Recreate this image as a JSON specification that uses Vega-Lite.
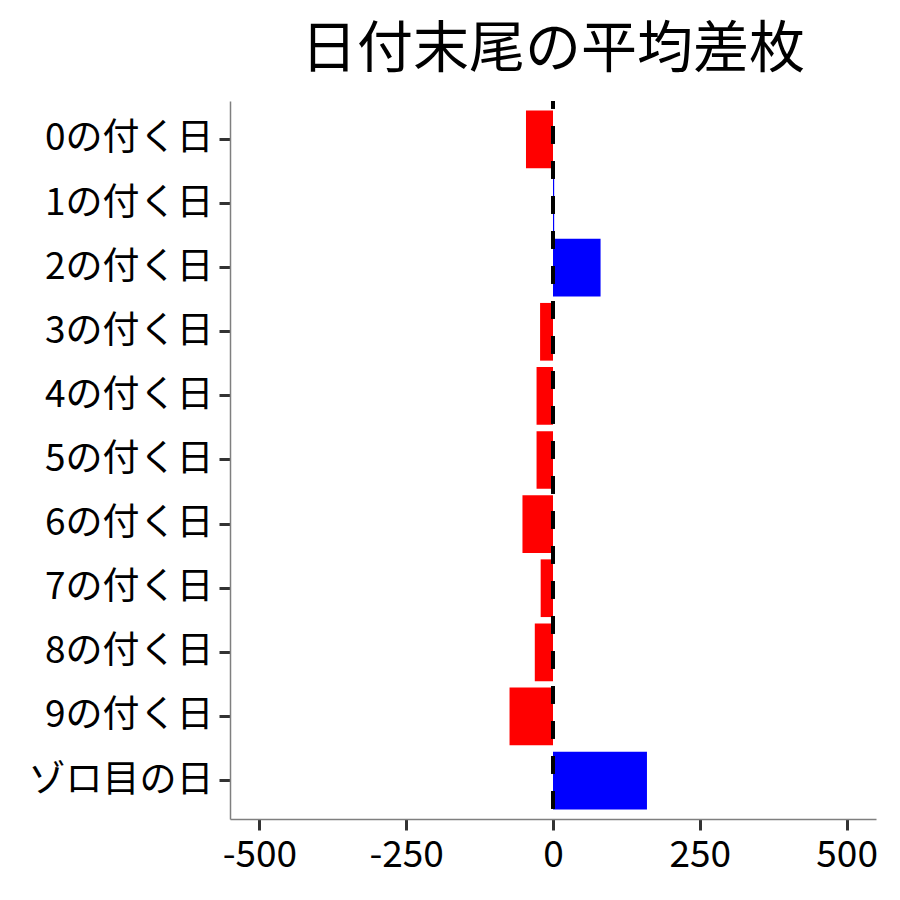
{
  "$schema": "https://vega.github.io/schema/vega-lite/v6.json",
  "width": 646,
  "height": 718,
  "autosize": "none",
  "padding": {"left": 230, "top": 101, "right": 24, "bottom": 81},
  "background": "white",
  "config": {
    "view": {"stroke": null},
    "font": "Noto Sans CJK JP"
  },
  "title": {
    "text": "日付末尾の平均差枚",
    "font": "Noto Sans CJK JP",
    "fontSize": 56,
    "fontWeight": "normal",
    "color": "black",
    "anchor": "middle",
    "frame": "group",
    "baseline": "alphabetic",
    "offset": 32,
    "dy": 56
  },
  "data": {
    "values": [
      {"day": "0の付く日", "diff": -46},
      {"day": "1の付く日", "diff": 2},
      {"day": "2の付く日", "diff": 81},
      {"day": "3の付く日", "diff": -22},
      {"day": "4の付く日", "diff": -28},
      {"day": "5の付く日", "diff": -28},
      {"day": "6の付く日", "diff": -52},
      {"day": "7の付く日", "diff": -21},
      {"day": "8の付く日", "diff": -31},
      {"day": "9の付く日", "diff": -74},
      {"day": "ゾロ目の日", "diff": 160}
    ]
  },
  "layer": [
    {
      "mark": {"type": "bar"},
      "encoding": {
        "y": {
          "field": "day",
          "type": "nominal",
          "sort": null,
          "title": null,
          "scale": {"paddingInner": 0.1, "paddingOuter": 0.15},
          "axis": {
            "domainColor": "#7f7f7f",
            "domainWidth": 1.5,
            "tickColor": "#333333",
            "tickWidth": 3,
            "tickSize": 11,
            "labelPadding": 6,
            "labelLimit": 400,
            "labelFont": "Noto Sans CJK JP",
            "labelFontSize": 37,
            "labelColor": "black"
          }
        },
        "x": {
          "field": "diff",
          "type": "quantitative",
          "title": null,
          "scale": {"domain": [-550, 550], "nice": false, "zero": false},
          "axis": {
            "values": [-500, -250, 0, 250, 500],
            "labelExpr": "datum.value + ''",
            "grid": false,
            "domainColor": "#7f7f7f",
            "domainWidth": 1.5,
            "tickColor": "#333333",
            "tickWidth": 3,
            "tickSize": 11,
            "labelPadding": 7,
            "labelFont": "Noto Sans CJK JP",
            "labelFontSize": 37,
            "labelColor": "black",
            "labelFlush": false
          }
        },
        "color": {
          "condition": {"test": "datum.diff < 0", "value": "#FF0000"},
          "value": "#0000FF"
        }
      }
    },
    {
      "mark": {
        "type": "rule",
        "color": "black",
        "strokeWidth": 4,
        "strokeDash": [17, 18],
        "strokeDashOffset": 9.7
      },
      "encoding": {"x": {"datum": 0}}
    }
  ]
}
